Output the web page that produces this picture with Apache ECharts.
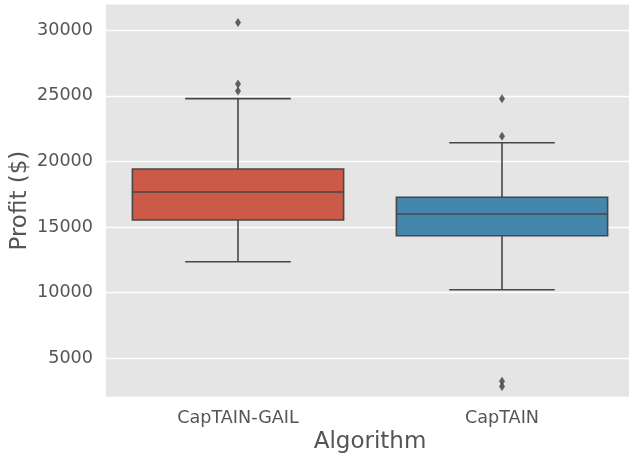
<!DOCTYPE html>
<html>
<head>
<meta charset="utf-8">
<script src="https://cdn.jsdelivr.net/npm/echarts@6/dist/echarts.min.js"></script>
<style>
html,body{margin:0;padding:0;background:#fff;}
#chart{width:629px;height:460px;}
</style>
</head>
<body>
<div id="chart"></div>
<script>
const categories = ['CapTAIN-GAIL', 'CapTAIN'];
const lowWhisker = [12360, 10230];
const q1 = [15540, 14345];
const median = [17675, 16000];
const q3 = [19430, 17270];
const highWhisker = [24790, 21430];
const gailOutliers = [30600, 25900, 25370];
const captainOutliers = [24790, 21920, 3250, 2850];
const yTicks = [5000, 10000, 15000, 20000, 25000, 30000];
const boxColors = ['#CC5A49', '#4586AC'];

const lineColor = '#474747';
const boxData = categories.map((c, i) => [i, lowWhisker[i], q1[i], median[i], q3[i], highWhisker[i]]);
const outlierData = [];
gailOutliers.forEach(v => outlierData.push([0, v]));
captainOutliers.forEach(v => outlierData.push([1, v]));

const chart = echarts.init(document.getElementById('chart'));
chart.setOption({
  animation: false,
  textStyle: { fontFamily: 'DejaVu Sans' },
  grid: { left: 106, top: 4.5, width: 528, height: 392.2, show: true, backgroundColor: '#E5E5E5', borderWidth: 0,
          containLabel: false, outerBoundsMode: 'none' },
  xAxis: {
    type: 'category',
    data: categories,
    boundaryGap: true,
    name: 'Algorithm',
    nameLocation: 'middle',
    nameGap: 34,
    nameMoveOverlap: false,
    nameTextStyle: { fontSize: 23, color: '#555555', fontFamily: 'DejaVu Sans' },
    axisLine: { show: false },
    axisTick: { show: false },
    splitLine: { show: false },
    axisLabel: { fontSize: 17.6, color: '#555555', margin: 13, fontFamily: 'DejaVu Sans' }
  },
  yAxis: {
    type: 'value',
    min: 2073,
    max: 31966,
    name: 'Profit ($)',
    nameLocation: 'middle',
    nameGap: 74,
    nameMoveOverlap: false,
    nameTextStyle: { fontSize: 23, color: '#555555', fontFamily: 'DejaVu Sans' },
    axisLine: { show: false },
    axisTick: { show: false, customValues: yTicks },
    axisLabel: { fontSize: 17.6, color: '#555555', margin: 13, customValues: yTicks, fontFamily: 'DejaVu Sans',
                 formatter: function (v) { return String(v); } },
    splitLine: { show: true, lineStyle: { color: '#FFFFFF', width: 1.4 } }
  },
  series: [
    {
      type: 'custom',
      data: boxData,
      encode: { x: 0, y: [1, 2, 3, 4, 5] },
      renderItem: function (params, api) {
        const idx = api.value(0);
        const pLow = api.coord([idx, api.value(1)]);
        const pQ1 = api.coord([idx, api.value(2)]);
        const pMed = api.coord([idx, api.value(3)]);
        const pQ3 = api.coord([idx, api.value(4)]);
        const pHigh = api.coord([idx, api.value(5)]);
        const band = api.size([1, 0])[0];
        const bw = band * 0.8;
        const cw = bw / 2;
        const cx = pMed[0];
        const ls = { stroke: lineColor, lineWidth: 1.6, fill: null };
        return {
          type: 'group',
          children: [
            { type: 'line', shape: { x1: cx, y1: pQ3[1], x2: cx, y2: pHigh[1] }, style: ls },
            { type: 'line', shape: { x1: cx, y1: pQ1[1], x2: cx, y2: pLow[1] }, style: ls },
            { type: 'line', shape: { x1: cx - cw / 2, y1: pHigh[1], x2: cx + cw / 2, y2: pHigh[1] }, style: ls },
            { type: 'line', shape: { x1: cx - cw / 2, y1: pLow[1], x2: cx + cw / 2, y2: pLow[1] }, style: ls },
            { type: 'rect', shape: { x: cx - bw / 2, y: pQ3[1], width: bw, height: pQ1[1] - pQ3[1] },
              style: { fill: boxColors[idx], stroke: lineColor, lineWidth: 1.6 } },
            { type: 'line', shape: { x1: cx - bw / 2, y1: pMed[1], x2: cx + bw / 2, y2: pMed[1] }, style: ls }
          ]
        };
      },
      z: 2
    },
    {
      type: 'scatter',
      data: outlierData,
      symbol: 'diamond',
      symbolSize: [6, 9],
      itemStyle: { color: '#3d3d3d' },
      z: 3
    }
  ]
});
</script>
</body>
</html>
